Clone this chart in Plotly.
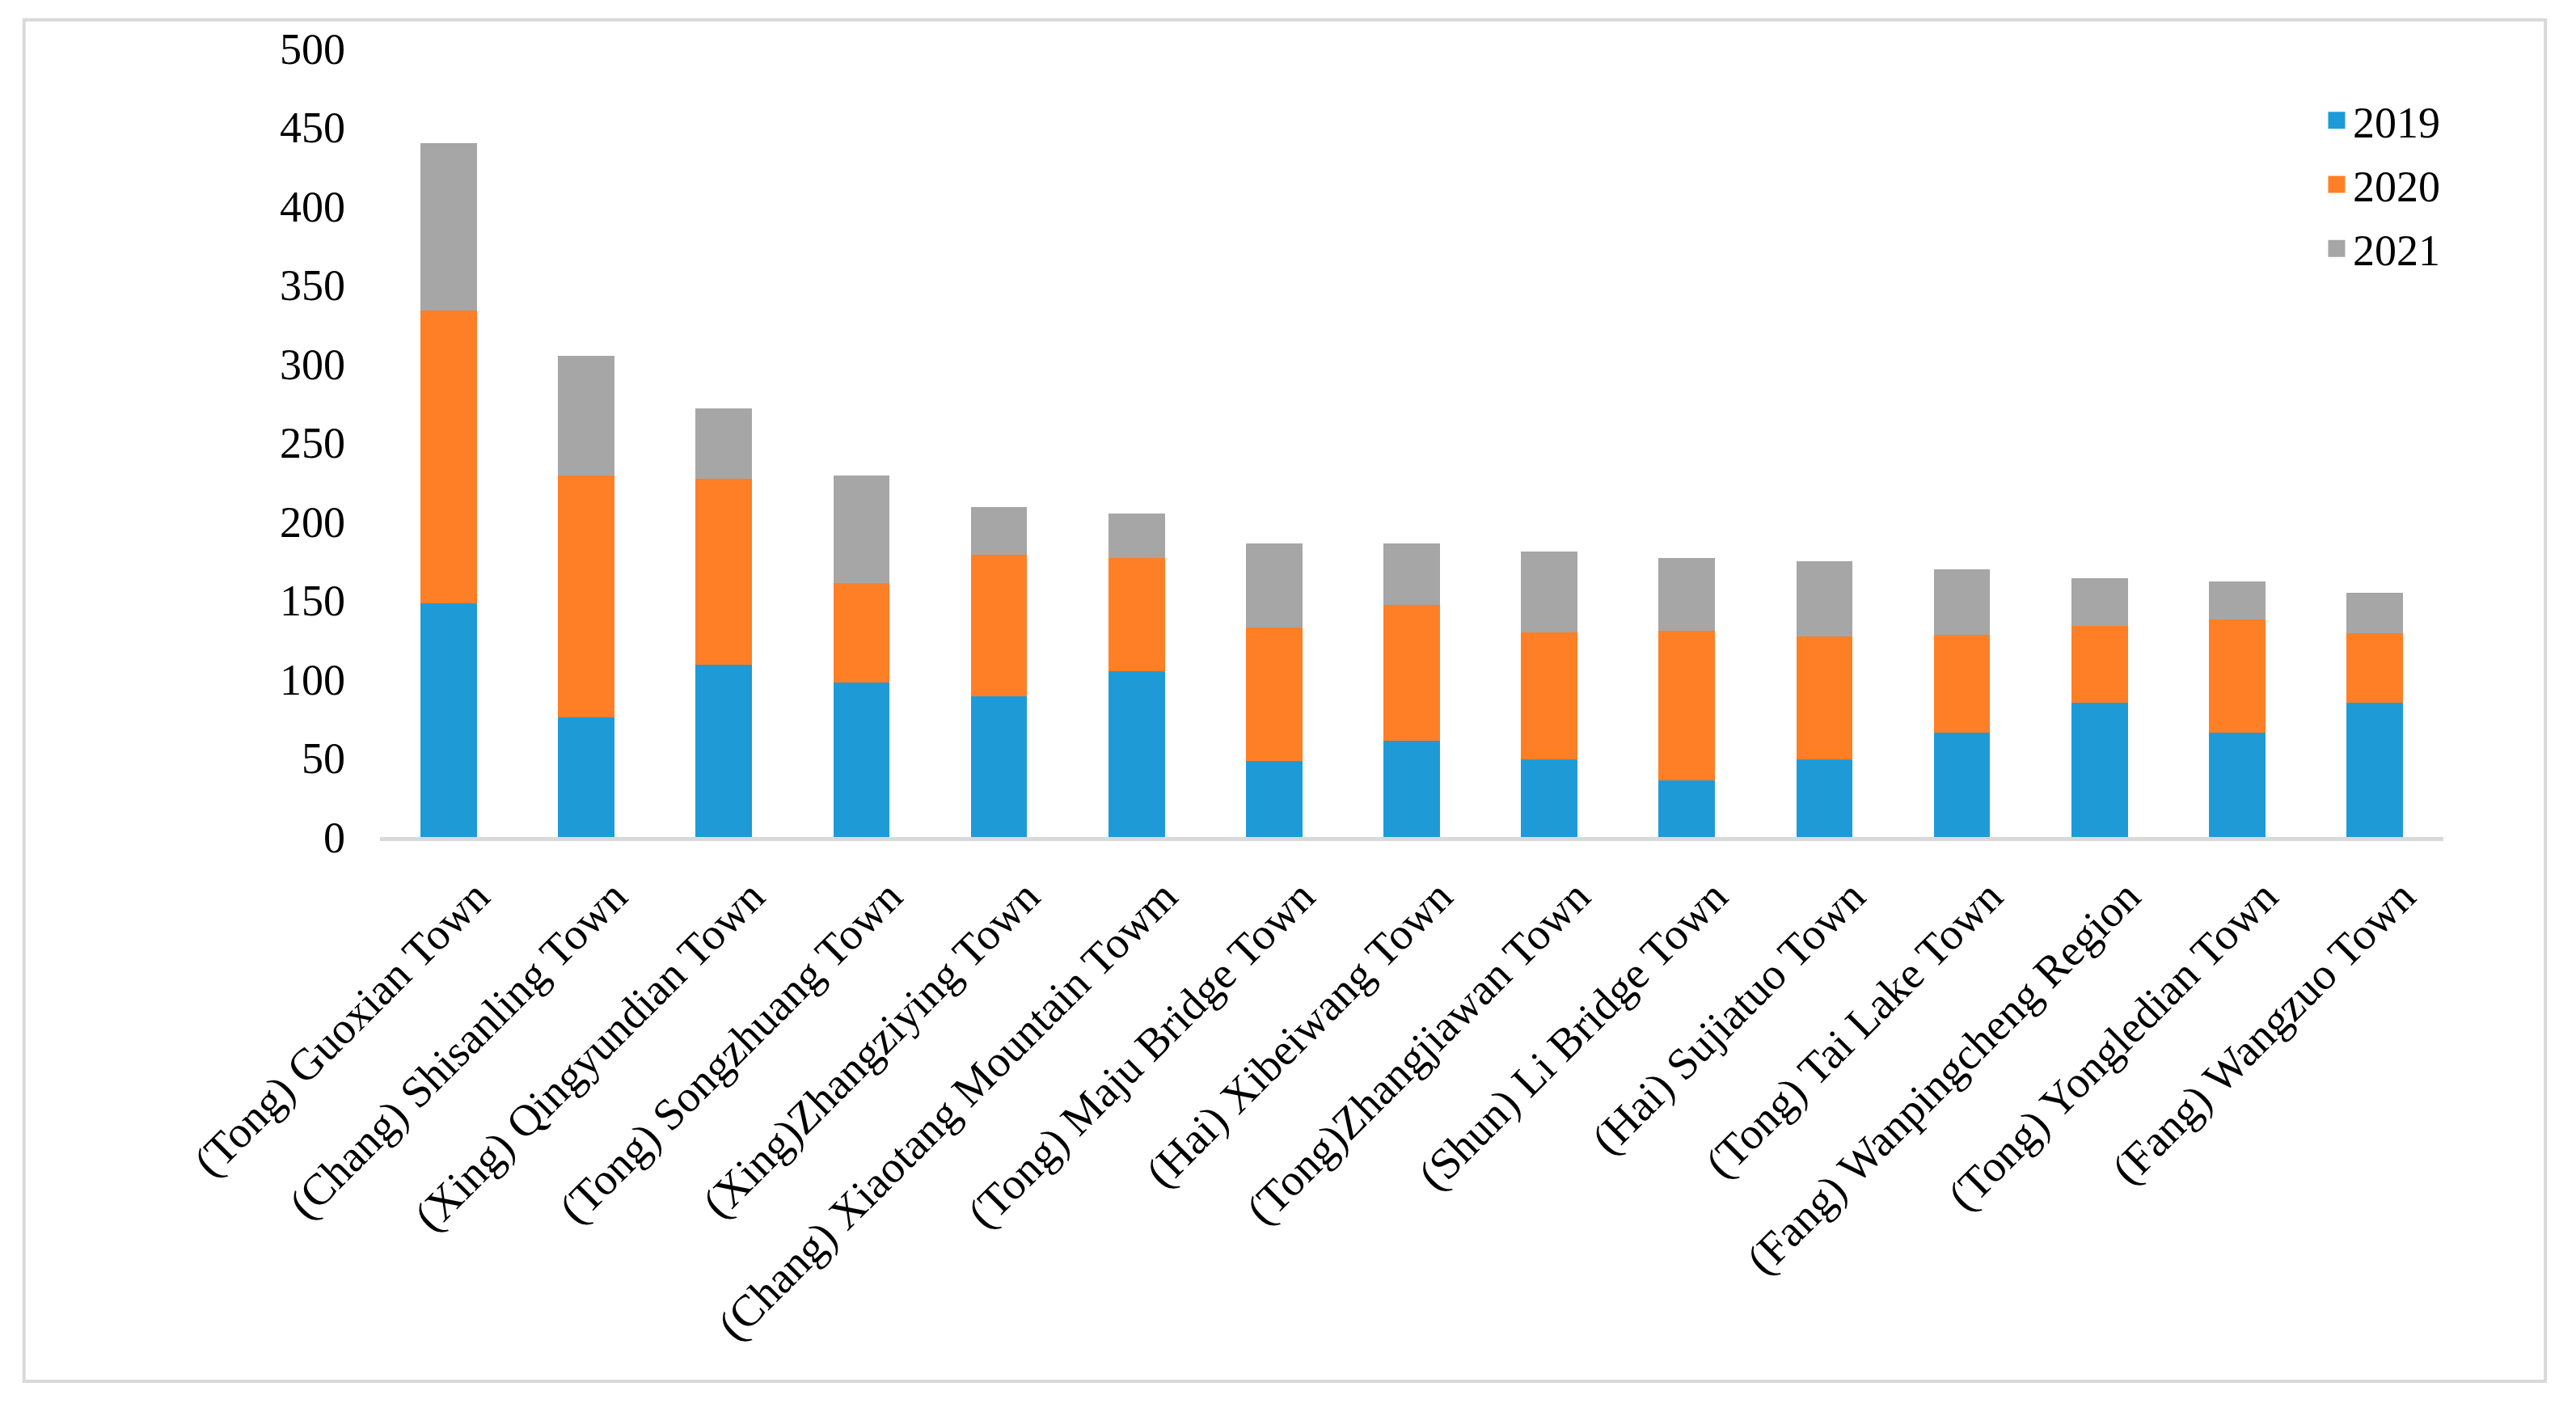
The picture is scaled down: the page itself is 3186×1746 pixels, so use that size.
import plotly.graph_objects as go

categories = [
    "(Tong) Guoxian Town", "(Chang) Shisanling Town", "(Xing) Qingyundian Town",
    "(Tong) Songzhuang Town", "(Xing)Zhangziying Town", "(Chang) Xiaotang Mountain Towm",
    "(Tong) Maju Bridge Town", "(Hai) Xibeiwang Town", "(Tong)Zhangjiawan Town",
    "(Shun) Li Bridge Town", "(Hai) Sujiatuo Town", "(Tong) Tai Lake Town",
    "(Fang) Wanpingcheng Region", "(Tong) Yongledian Town", "(Fang) Wangzuo Town",
]
values_2019 = [148, 76, 109, 98, 89, 105, 48, 61, 49, 36, 49, 66, 85, 66, 85]
values_2020 = [186, 153, 118, 63, 90, 72, 85, 86, 81, 95, 78, 62, 49, 72, 44]
values_2021 = [106, 76, 45, 68, 30, 28, 53, 39, 51, 46, 48, 42, 30, 24, 26]
series_names = ["2019", "2020", "2021"]
y_ticks = [0, 50, 100, 150, 200, 250, 300, 350, 400, 450, 500]

colors = ["#1E9BD7", "#FF7F27", "#A6A6A6"]
FONT = "Liberation Serif, Times New Roman, serif"

fig = go.Figure()
for name, vals, col in zip(series_names, [values_2019, values_2020, values_2021], colors):
    fig.add_trace(go.Bar(
        x=categories, y=vals, name=name, marker=dict(color=col, line=dict(width=0)),
        legendgroup=name, showlegend=False,
    ))
# legend entries (square swatches)
for name, col in zip(series_names, colors):
    fig.add_trace(go.Scatter(
        x=[None], y=[None], mode="markers", name=name, legendgroup=name,
        marker=dict(symbol="square", size=16, color=col, line=dict(color=col, width=5)),
        showlegend=True,
    ))

# plot area in pixels on a 3186x1746 page
L, R, T, B = 462, 156, 52, 1746 - 1043
pw, ph = 3186 - L - R, 1746 - T - B

def px(x):
    return (x - L) / pw

def py(y):
    return (1746 - B - y) / ph

fig.update_layout(
    barmode="stack",
    bargap=0.59,
    paper_bgcolor="white",
    plot_bgcolor="white",
    margin=dict(l=L, r=R, t=T, b=B, autoexpand=False),
    font=dict(family=FONT, size=54, color="black"),
    showlegend=True,
    legend=dict(
        x=px(2877), y=py(100), xanchor="left", yanchor="top",
        font=dict(family=FONT, size=54, color="black"),
        tracegroupgap=6, bgcolor="rgba(0,0,0,0)",
    ),
    xaxis=dict(
        type="category", range=[-0.5, len(categories) - 0.5],
        showline=True, linecolor="#D9D9D9", linewidth=5,
        showgrid=False, ticks="", tickangle=-45,
        tickfont=dict(family=FONT, size=55, color="black"),
        zeroline=False, ticklabelshift=34, ticklabelstandoff=14,
    ),
    yaxis=dict(
        range=[0, 500], tickvals=y_ticks, ticktext=[str(v) for v in y_ticks],
        showgrid=False, showline=False, zeroline=False, ticks="",
        tickfont=dict(family=FONT, size=54, color="black"),
        ticklabelstandoff=42,
    ),
    shapes=[dict(
        type="rect", xref="paper", yref="paper",
        x0=px(19), x1=px(3157), y0=py(1727), y1=py(16),
        line=dict(color="#D9D9D9", width=4), fillcolor="rgba(0,0,0,0)", layer="below",
    )],
)

fig.write_html("out.html")
